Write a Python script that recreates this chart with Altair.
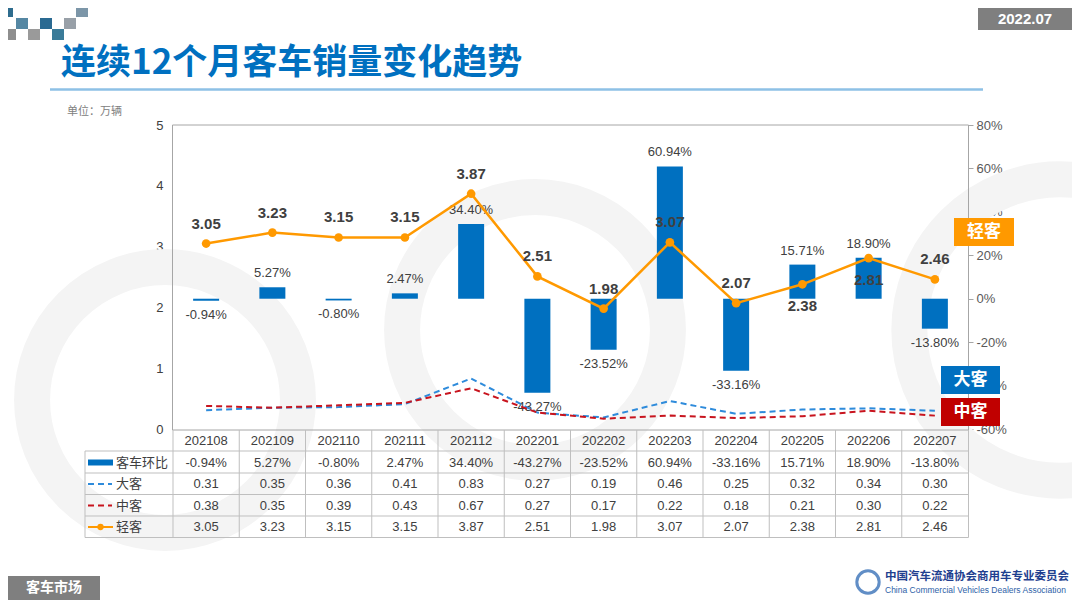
import altair as alt
import pandas as pd

# ---------------- data ----------------
months = ["202108", "202109", "202110", "202111", "202112", "202201",
          "202202", "202203", "202204", "202205", "202206", "202207"]
pct_change = [-0.94, 5.27, -0.80, 2.47, 34.40, -43.27, -23.52, 60.94, -33.16, 15.71, 18.90, -13.80]
big_bus = [0.31, 0.35, 0.36, 0.41, 0.83, 0.27, 0.19, 0.46, 0.25, 0.32, 0.34, 0.30]
mid_bus = [0.38, 0.35, 0.39, 0.43, 0.67, 0.27, 0.17, 0.22, 0.18, 0.21, 0.30, 0.22]
light_bus = [3.05, 3.23, 3.15, 3.15, 3.87, 2.51, 1.98, 3.07, 2.07, 2.38, 2.81, 2.46]
row_labels = ["客车环比", "大客", "中客", "轻客"]
left_ticks = [0, 1, 2, 3, 4, 5]
right_ticks = [-60, -40, -20, 0, 20, 40, 60, 80]
light_label_below = ["202205", "202206"]

title_text = "连续12个月客车销量变化趋势"
date_text = "2022.07"
unit_text = "单位：万辆"
footer_text = "客车市场"
org_cn = "中国汽车流通协会商用车专业委员会"
org_en = "China Commercial Vehicles Dealers Association"

df = pd.DataFrame({
    "month": months, "pct": pct_change, "big": big_bus,
    "mid": mid_bus, "light": light_bus,
})
df["below"] = df["month"].isin(light_label_below)

# ---------------- style ----------------
LAT = "Liberation Sans, Arial, sans-serif"
CJK = "Noto Sans CJK SC, sans-serif"
BLUE = "#0070C0"
ORANGE = "#FF9900"
DBLUE = "#2E8BDB"
RED = "#C8141E"
GRID = "#BFBFBF"
TXT = "#404040"
O = 8  # page margin -> chart coordinates

W, H = 1064, 592
one = pd.DataFrame({"v": [0]})

xscale = alt.Scale(domain=months, range=[173 - O, 968 - O], paddingInner=0, paddingOuter=0)
qty_scale = alt.Scale(domain=[0, 5], range=[429 - O, 125 - O], nice=False, zero=False)
pct_scale = alt.Scale(domain=[-60, 80], range=[429 - O, 125 - O], nice=False, zero=False)
X = alt.X("month:N", scale=xscale, axis=None, sort=months)
PCT_LABEL = "(datum.pct < 0 ? '-' : '') + format(abs(datum.pct), '.2f') + '%'"


def rect(x1, y1, x2, y2, fill, **kw):
    return alt.Chart(one).mark_rect(color=fill, **kw).encode(
        x=alt.value(x1 - O), x2=alt.value(x2 - O), y=alt.value(y1 - O), y2=alt.value(y2 - O))


def hline(x1, x2, y, color=GRID, width=1, **kw):
    return alt.Chart(one).mark_rule(color=color, strokeWidth=width, **kw).encode(
        x=alt.value(x1 - O), x2=alt.value(x2 - O), y=alt.value(y - O))


def vline(x, y1, y2, color=GRID, width=1):
    return alt.Chart(one).mark_rule(color=color, strokeWidth=width).encode(
        x=alt.value(x - O), y=alt.value(y1 - O), y2=alt.value(y2 - O))


def text(x, y, s, size=13, color=TXT, font=CJK, weight="normal", align="left", baseline="middle"):
    return alt.Chart(one).mark_text(text=s, fontSize=size, color=color, font=font,
                                    fontWeight=weight, align=align, baseline=baseline).encode(
        x=alt.value(x - O), y=alt.value(y - O))


layers = []

# watermark rings (faint)
for cx, cy, r in [(165, 400, 150), (535, 330, 150), (1060, 330, 170)]:
    layers.append(alt.Chart(one).mark_point(shape="circle", filled=False, color="#F4F4F4",
                                            strokeWidth=36, size=3.1416 * r * r, opacity=1).encode(
        x=alt.value(cx - O), y=alt.value(cy - O)))

# top-left checker squares
squares = [
    (8, 8, 13, 17, "#2E6C8E"), (76, 8, 88, 17, "#7C96A8"),
    (16, 18, 28, 29, "#5587A3"), (40, 18, 52, 29, "#2A6A92"), (64, 18, 76, 29, "#98A0A8"),
    (8, 29, 16, 40, "#8E8E8E"), (28, 29, 40, 40, "#9A9A9A"), (52, 29, 64, 40, "#3A7B99"),
]
for s in squares:
    layers.append(rect(s[0], s[1], s[2], s[3], s[4]))

# title & underline
layers.append(text(61, 63, title_text, size=35, color=BLUE, weight="bold"))
layers.append(hline(50, 983, 89.5, color="#8EC1E6", width=2.5))
# date box
layers.append(rect(978, 8, 1072, 30, "#7F7F7F"))
layers.append(text(1025, 19, date_text, size=15, color="white", font=LAT, weight="bold", align="center"))
# unit
layers.append(text(67, 112, unit_text, size=11, color="#808080"))

# plot frame
layers.append(rect(172.5, 125, 968.5, 430, "white", fillOpacity=0, stroke="#A6A6A6", strokeWidth=1))

# bars (right axis)
bars = alt.Chart(df).mark_bar(size=26, color=BLUE).encode(
    x=X,
    y=alt.Y("pct:Q", scale=pct_scale,
            axis=alt.Axis(orient="right", offset=-(W - (968 - O)), values=right_ticks,
                          labelExpr="datum.value + '%'", domain=False, ticks=True, tickSize=5,
                          tickColor="#A6A6A6", grid=False, labelFont=LAT, labelFontSize=13,
                          labelColor="#595959", labelPadding=3, title=None, labelOverlap=False)),
    y2=alt.datum(0),
)
layers.append(bars)

blab = alt.Chart(df).transform_calculate(lab=PCT_LABEL)
layers.append(blab.transform_filter("datum.pct >= 0").mark_text(
    font=LAT, fontSize=13, color=TXT, dy=-14, baseline="middle").encode(
    x=X, y=alt.Y("pct:Q", scale=pct_scale, axis=None), text="lab:N"))
layers.append(blab.transform_filter("datum.pct < 0").mark_text(
    font=LAT, fontSize=13, color=TXT, dy=14, baseline="middle").encode(
    x=X, y=alt.Y("pct:Q", scale=pct_scale, axis=None), text="lab:N"))

# dashed lines
layers.append(alt.Chart(df).mark_line(color=DBLUE, strokeWidth=2, strokeDash=[6, 4]).encode(
    x=X, y=alt.Y("big:Q", scale=qty_scale, axis=None)))
layers.append(alt.Chart(df).mark_line(color=RED, strokeWidth=2, strokeDash=[6, 4]).encode(
    x=X, y=alt.Y("mid:Q", scale=qty_scale, axis=None)))

# light bus line (left axis)
layers.append(alt.Chart(df).mark_line(color=ORANGE, strokeWidth=2.5).encode(
    x=X,
    y=alt.Y("light:Q", scale=qty_scale,
            axis=alt.Axis(orient="left", offset=-(172 - O), values=left_ticks, domain=False,
                          ticks=False, grid=False, labelFont=LAT, labelFontSize=13,
                          labelColor=TXT, labelPadding=9, title=None, labelOverlap=False))))
layers.append(alt.Chart(df).mark_point(filled=True, color=ORANGE, size=75, opacity=1).encode(
    x=X, y=alt.Y("light:Q", scale=qty_scale, axis=None)))
layers.append(alt.Chart(df).transform_filter("!datum.below").mark_text(
    font=LAT, fontSize=15, fontWeight="bold", color=TXT, dy=-20, baseline="middle").encode(
    x=X, y=alt.Y("light:Q", scale=qty_scale, axis=None), text=alt.Text("light:Q", format=".2f")))
layers.append(alt.Chart(df).transform_filter("datum.below").mark_text(
    font=LAT, fontSize=15, fontWeight="bold", color=TXT, dy=22, baseline="middle").encode(
    x=X, y=alt.Y("light:Q", scale=qty_scale, axis=None), text=alt.Text("light:Q", format=".2f")))

# ---------------- data table ----------------
row_lines = [451, 473, 494.5, 516, 537.5]
for y in row_lines:
    layers.append(hline(85, 968.5, y))
layers.append(vline(85, 451, 537.5))
layers.append(alt.Chart(df).mark_rule(color=GRID, strokeWidth=1).encode(
    x=alt.X("month:N", scale=xscale, axis=None, sort=months, bandPosition=0),
    y=alt.value(430 - O), y2=alt.value(537.5 - O)))
layers.append(vline(968.5, 430, 537.5))

row_y = [441, 462.5, 484, 505.5, 527]
tbl = alt.Chart(df).transform_calculate(lab=PCT_LABEL)
for field, y in zip(["month:N", "lab:N", "big:Q", "mid:Q", "light:Q"], row_y):
    enc_text = alt.Text(field, format=".2f") if field.endswith(":Q") else alt.Text(field)
    layers.append(tbl.mark_text(font=LAT, fontSize=13, color=TXT, baseline="middle").encode(
        x=X, y=alt.value(y - O), text=enc_text))

# row labels with legend symbols
for lab, y in zip(row_labels, row_y[1:]):
    layers.append(text(116, y, lab, size=13, color=TXT))
layers.append(rect(88, 459.5, 113, 465.5, BLUE))
layers.append(hline(88, 112, row_y[2], color=DBLUE, width=2, strokeDash=[6, 4]))
layers.append(hline(88, 112, row_y[3], color=RED, width=2, strokeDash=[6, 4]))
layers.append(hline(88, 113, row_y[4], color=ORANGE, width=2))
layers.append(alt.Chart(one).mark_point(filled=True, color=ORANGE, size=40, opacity=1).encode(
    x=alt.value(100.5 - O), y=alt.value(row_y[4] - O)))

# right-side series tags
layers.append(rect(954, 218, 1014, 246, ORANGE))
layers.append(text(984, 232, row_labels[3], size=17, color="white", weight="bold", align="center"))
layers.append(rect(941, 366, 1000, 394, BLUE))
layers.append(text(970.5, 380, row_labels[1], size=17, color="white", weight="bold", align="center"))
layers.append(rect(941, 398, 1000, 426, "#C00000"))
layers.append(text(970.5, 412, row_labels[2], size=17, color="white", weight="bold", align="center"))

# footer
layers.append(rect(8, 576, 100, 600, "#7F7F7F"))
layers.append(text(54, 588, footer_text, size=14, color="white", weight="bold", align="center"))
layers.append(alt.Chart(one).mark_point(shape="circle", filled=False, color="#1F5FAF",
                                        strokeWidth=3, size=500).encode(
    x=alt.value(868 - O), y=alt.value(582 - O)))
layers.append(text(885, 577, org_cn, size=11.5, color="#1F3F8F", weight="bold"))
layers.append(text(885, 590, org_en, size=8.5, color="#2E5FA8", font=LAT))

chart = alt.layer(*layers).resolve_scale(y="independent").properties(
    width=W, height=H, padding=0, autosize=alt.AutoSizeParams(type="none"),
    background="white",
).configure_view(stroke=None)

chart.save("out.html", embed_options={"renderer": "svg", "actions": False})
